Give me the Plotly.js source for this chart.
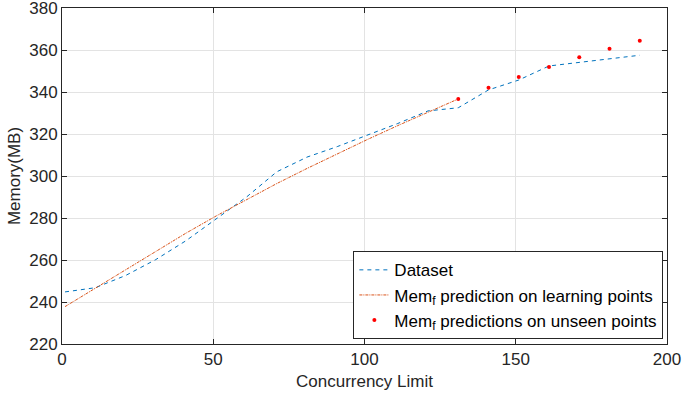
<!DOCTYPE html>
<html>
<head>
<meta charset="utf-8">
<script src="https://cdn.plot.ly/plotly-3.0.1.min.js"></script>
<style>html,body{margin:0;padding:0;background:#fff;}#chart{width:684px;height:398px;}</style>
</head>
<body>
<div id="chart"></div>
<script>
// Dataset (blue dashed)
const datasetX = [1, 11, 21, 31, 41, 51, 61, 71, 81, 91, 101, 111, 121, 131, 141, 151, 161, 171, 181, 191];
const datasetY = [244.8, 246.8, 252.6, 260.2, 269.2, 279.5, 290, 302, 309, 314, 319.5, 325, 331, 332.5, 341, 345.7, 352.4, 354, 355.6, 357.5];
// Mem_f prediction on learning points (orange dash-dot)
const learnX = [1, 11, 21, 31, 41, 51, 61, 71, 81, 91, 101, 111, 121, 131];
const learnY = [237.8, 246.6, 255.5, 264.3, 272.8, 281, 288.8, 296.4, 303.6, 310.6, 317.4, 324, 330.4, 336.7];
// Mem_f predictions on unseen points (red dots)
const unseenX = [131, 141, 151, 161, 171, 181, 191];
const unseenY = [336.7, 342, 347.1, 351.9, 356.5, 360.6, 364.4];
const xTicks = [0, 50, 100, 150, 200];
const yTicks = [220, 240, 260, 280, 300, 320, 340, 360, 380];

const traces = [
  {x: datasetX, y: datasetY, type: 'scatter', mode: 'lines', name: 'Dataset',
   line: {color: '#0072BD', width: 1, dash: '4px,4px'}},
  {x: learnX, y: learnY, type: 'scatter', mode: 'lines', name: 'Mem<sub>f</sub> prediction on learning points',
   line: {color: '#D95319', width: 1, dash: '3px,1px,1px,1px'}},
  {x: unseenX, y: unseenY, type: 'scatter', mode: 'markers', name: 'Mem<sub>f</sub> predictions on unseen points',
   marker: {color: '#FF0000', size: 4, symbol: 'circle'}}
];

const FONT = 'Liberation Sans, Arial, sans-serif';
const axisCommon = {
  showline: true, linecolor: '#262626', linewidth: 1, mirror: 'ticks',
  ticks: 'inside', ticklen: 5, tickcolor: '#262626',
  showgrid: true, gridcolor: '#e3e3e3', gridwidth: 1, zeroline: false,
  ticklabeloverflow: 'allow',
  tickfont: {family: FONT, size: 17, color: '#262626'}
};

const layout = {
  width: 684, height: 398,
  margin: {l: 62, r: 17, t: 8, b: 54},
  paper_bgcolor: '#ffffff', plot_bgcolor: '#ffffff',
  font: {family: FONT, size: 17, color: '#262626'},
  xaxis: Object.assign({}, axisCommon, {
    range: [0, 200], tickvals: xTicks, ticktext: xTicks.map(String),
    title: {text: 'Concurrency Limit', font: {size: 17, color: '#262626'}, standoff: 6}
  }),
  yaxis: Object.assign({}, axisCommon, {
    range: [220, 380], tickvals: yTicks, ticktext: yTicks.map(String),
    title: {text: 'Memory(MB)', font: {size: 17, color: '#262626'}, standoff: 4}
  }),
  showlegend: true,
  legend: {
    x: 0.994, y: 0.014, xanchor: 'right', yanchor: 'bottom',
    bgcolor: '#ffffff', bordercolor: '#262626', borderwidth: 1,
    font: {size: 17, color: '#000000'}, itemwidth: 30, tracegroupgap: 0
  }
};

Plotly.newPlot('chart', traces, layout, {displayModeBar: false, staticPlot: true});
</script>
</body>
</html>
